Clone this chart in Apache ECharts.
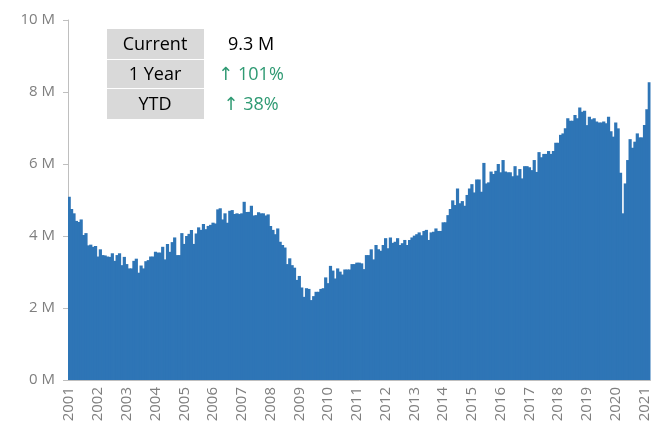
<!DOCTYPE html>
<html>
<head>
<meta charset="utf-8">
<script src="https://cdn.jsdelivr.net/npm/echarts@6/dist/echarts.min.js"></script>
<style>
  html, body { margin: 0; padding: 0; background: #fff; }
  #chart { width: 652px; height: 425px; }
</style>
</head>
<body>
<div id="chart"></div>
<script>
// year tick labels
var years = ["2001", "2002", "2003", "2004", "2005", "2006", "2007", "2008", "2009", "2010", "2011",
  "2012", "2013", "2014", "2015", "2016", "2017", "2018", "2019", "2020", "2021"];

// monthly values in millions, one array per year
var v2001 = [5.09, 4.75, 4.63, 4.42, 4.39, 4.46, 4.03, 4.08, 3.74, 3.76, 3.70, 3.72];
var v2002 = [3.43, 3.63, 3.47, 3.46, 3.43, 3.42, 3.52, 3.31, 3.47, 3.52, 3.19, 3.42];
var v2003 = [3.22, 3.10, 3.10, 3.31, 3.37, 2.98, 3.18, 3.10, 3.30, 3.33, 3.43, 3.43];
var v2004 = [3.56, 3.54, 3.54, 3.70, 3.35, 3.78, 3.56, 3.83, 3.96, 3.47, 3.47, 4.08];
var v2005 = [3.78, 4.00, 4.06, 4.17, 3.78, 4.07, 4.24, 4.17, 4.33, 4.19, 4.28, 4.31];
var v2006 = [4.37, 4.35, 4.74, 4.77, 4.46, 4.63, 4.37, 4.70, 4.72, 4.61, 4.63, 4.61];
var v2007 = [4.63, 4.95, 4.67, 4.67, 4.84, 4.57, 4.58, 4.66, 4.63, 4.63, 4.57, 4.60];
var v2008 = [4.28, 4.17, 4.05, 4.21, 3.84, 3.75, 3.68, 3.22, 3.38, 3.19, 3.12, 2.78];
var v2009 = [2.89, 2.57, 2.31, 2.55, 2.53, 2.22, 2.33, 2.45, 2.45, 2.53, 2.55, 2.85];
var v2010 = [2.69, 3.17, 3.04, 2.82, 3.10, 3.01, 2.93, 3.07, 3.07, 3.07, 3.22, 3.22];
var v2011 = [3.26, 3.26, 3.24, 3.08, 3.47, 3.47, 3.63, 3.35, 3.75, 3.63, 3.59, 3.75];
var v2012 = [3.94, 3.66, 3.96, 3.81, 3.84, 3.94, 3.75, 3.80, 3.89, 3.75, 3.89, 3.96];
var v2013 = [4.01, 4.05, 4.10, 4.02, 4.14, 4.17, 3.89, 4.10, 4.12, 4.21, 4.14, 4.14];
var v2014 = [4.38, 4.38, 4.58, 4.75, 4.99, 4.86, 5.32, 4.91, 4.97, 4.84, 5.14, 5.32];
var v2015 = [5.44, 5.21, 5.57, 5.57, 5.23, 6.03, 5.46, 5.49, 5.79, 5.72, 5.81, 6.00];
var v2016 = [5.77, 6.11, 5.79, 5.77, 5.77, 5.66, 5.94, 5.68, 5.86, 5.60, 5.94, 5.94];
var v2017 = [5.91, 5.83, 6.11, 5.78, 6.33, 6.19, 6.28, 6.28, 6.36, 6.28, 6.36, 6.59];
var v2018 = [6.59, 6.81, 6.85, 6.99, 7.27, 7.20, 7.20, 7.36, 7.27, 7.57, 7.45, 7.48];
var v2019 = [7.08, 7.31, 7.24, 7.27, 7.18, 7.15, 7.15, 7.18, 7.13, 7.31, 6.91, 6.76];
var v2020 = [7.15, 6.99, 5.76, 4.63, 5.46, 6.11, 6.69, 6.45, 6.62, 6.85, 6.74, 6.74];
var v2021 = [7.08, 7.52, 8.27];

// summary box
var statLabels = ["Current", "1 Year", "YTD"];
var statValues = ["9.3 M", "↑ 101%", "↑ 38%"];

var perYear = [v2001, v2002, v2003, v2004, v2005, v2006, v2007, v2008, v2009, v2010, v2011,
  v2012, v2013, v2014, v2015, v2016, v2017, v2018, v2019, v2020, v2021];

var months = [], values = [];
perYear.forEach(function (arr, i) {
  arr.forEach(function (v, m) {
    months.push(years[i] + "-" + (m + 1));
    values.push(v);
  });
});

var isJan = function (idx) { return idx % 12 === 0; };

var font = "'Open Sans', 'DejaVu Sans', sans-serif";
var myChart = echarts.init(document.getElementById("chart"));

var boxes = [];
var rowY = [29, 60, 89];
var rowH = [30, 28, 30];
statLabels.forEach(function (lab, i) {
  boxes.push({
    type: "rect",
    shape: { x: 107, y: rowY[i], width: 97, height: rowH[i] },
    style: { fill: "#d9d9d9" },
    z: 100
  });
  boxes.push({
    type: "text",
    x: 155, y: rowY[i] + rowH[i] / 2 + 1,
    style: {
      text: lab, fill: "#000", font: "18px " + font,
      textAlign: "center", textVerticalAlign: "middle"
    },
    z: 101
  });
  boxes.push({
    type: "text",
    x: 251, y: rowY[i] + rowH[i] / 2 + 1,
    style: {
      text: statValues[i], fill: i === 0 ? "#000" : "#2f9a73", font: "18px " + font,
      textAlign: "center", textVerticalAlign: "middle"
    },
    z: 101
  });
});

var option = {
  animation: false,
  grid: { left: 68, right: -2, top: 20, bottom: 45 },
  xAxis: {
    type: "category",
    data: months,
    boundaryGap: true,
    axisLine: { lineStyle: { color: "#bfbfbf", width: 1 } },
    axisTick: { interval: isJan, length: 5, lineStyle: { color: "#bfbfbf" } },
    axisLabel: {
      interval: isJan,
      rotate: 90,
      margin: 7,
      color: "#7f7f7f",
      fontSize: 15,
      fontFamily: font,
      formatter: function (val) { return val.slice(0, 4); }
    }
  },
  yAxis: {
    type: "value",
    min: 0,
    max: 10,
    interval: 2,
    axisLine: { show: true, lineStyle: { color: "#bfbfbf", width: 1 } },
    axisTick: { show: true, length: 5, lineStyle: { color: "#bfbfbf" } },
    splitLine: { show: false },
    axisLabel: {
      color: "#7f7f7f",
      fontSize: 15,
      fontFamily: font,
      margin: 13,
      formatter: "{value} M"
    }
  },
  series: [
    {
      type: "bar",
      data: values,
      barWidth: 3.2,
      itemStyle: { color: "#2e75b6" }
    }
  ],
  graphic: boxes
};
option && myChart.setOption(option);
</script>
</body>
</html>
